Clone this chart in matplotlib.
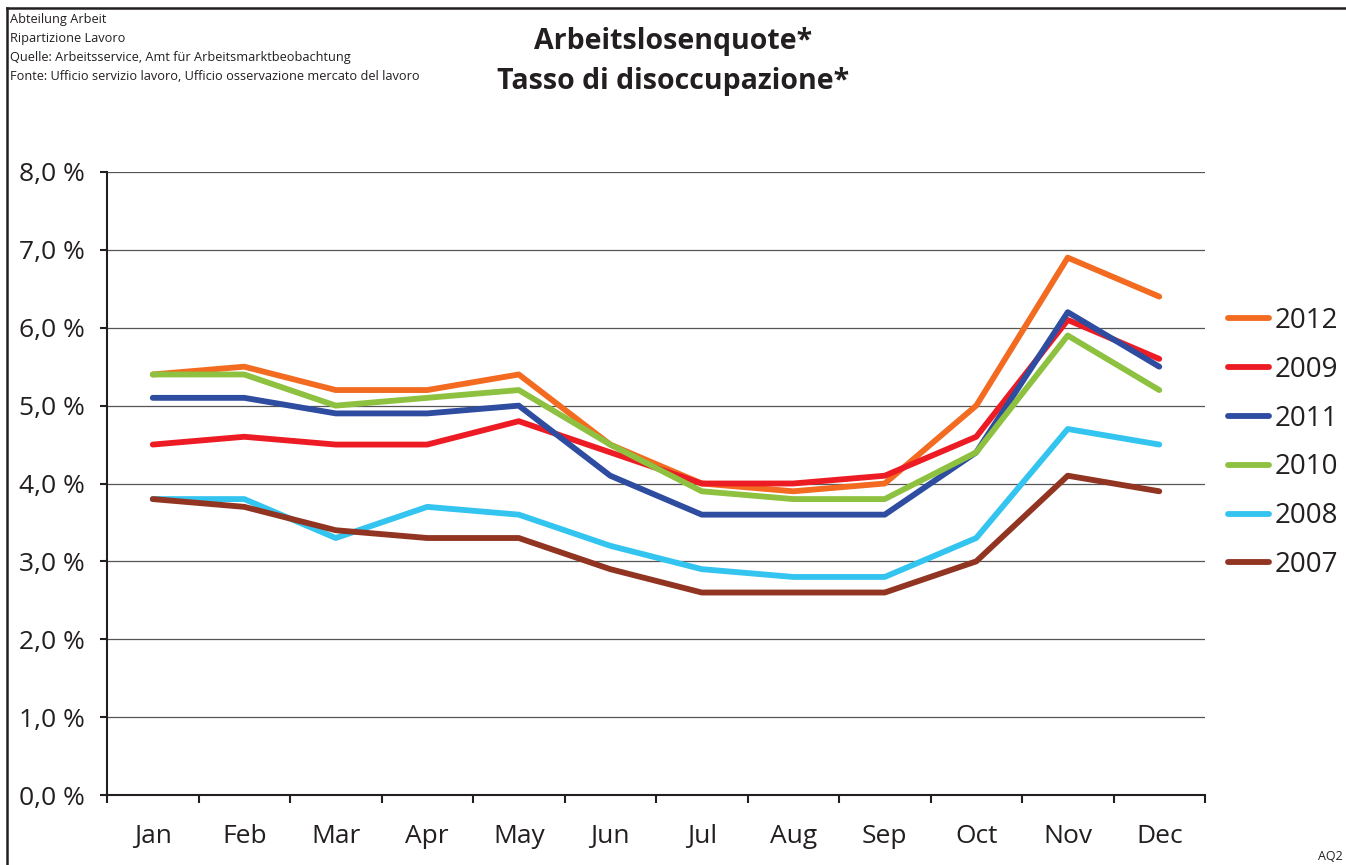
import matplotlib
matplotlib.use('Agg')
import matplotlib.pyplot as plt
from matplotlib.lines import Line2D

plt.rcParams['font.family'] = ['Open Sans', 'DejaVu Sans']

months = ['Jan', 'Feb', 'Mar', 'Apr', 'May', 'Jun', 'Jul', 'Aug', 'Sep', 'Oct', 'Nov', 'Dec']
years = ['2012', '2009', '2011', '2010', '2008', '2007']
rate_2012 = [5.4, 5.5, 5.2, 5.2, 5.4, 4.5, 4.0, 3.9, 4.0, 5.0, 6.9, 6.4]
rate_2009 = [4.5, 4.6, 4.5, 4.5, 4.8, 4.4, 4.0, 4.0, 4.1, 4.6, 6.1, 5.6]
rate_2011 = [5.1, 5.1, 4.9, 4.9, 5.0, 4.1, 3.6, 3.6, 3.6, 4.4, 6.2, 5.5]
rate_2010 = [5.4, 5.4, 5.0, 5.1, 5.2, 4.5, 3.9, 3.8, 3.8, 4.4, 5.9, 5.2]
rate_2008 = [3.8, 3.8, 3.3, 3.7, 3.6, 3.2, 2.9, 2.8, 2.8, 3.3, 4.7, 4.5]
rate_2007 = [3.8, 3.7, 3.4, 3.3, 3.3, 2.9, 2.6, 2.6, 2.6, 3.0, 4.1, 3.9]
series = [rate_2012, rate_2009, rate_2011, rate_2010, rate_2008, rate_2007]
colors = ['#F26B21', '#ED1C24', '#2E4DA0', '#8DC13F', '#33C4F0', '#913421']

fig = plt.figure(figsize=(13.46, 8.65), dpi=100)
ax = fig.add_axes([107 / 1346, 70 / 865, 1098 / 1346, 623 / 865])

x = list(range(len(months)))
for yr, vals, c in zip(years, series, colors):
    ax.plot(x, vals, color=c, lw=4.2, label=yr, solid_capstyle='round')

ax.set_xlim(-0.5, 11.5)
ax.set_ylim(0, 8)
ax.set_yticks(range(0, 9))
ax.set_yticklabels(['%d,0 %%' % v for v in range(0, 9)], fontsize=19, color='#231F20')
ax.yaxis.grid(True, color='#555555', lw=0.9)
ax.set_axisbelow(True)

ax.set_xticks([i - 0.5 for i in range(13)])
ax.set_xticklabels([])
ax.set_xticks(x, minor=True)
ax.set_xticklabels(months, minor=True, fontsize=19, color='#231F20')
ax.tick_params(axis='x', which='minor', length=0, pad=21)
ax.tick_params(axis='x', which='major', length=6, width=1.5, color='#231F20')
ax.tick_params(axis='y', length=5, width=1.5, pad=11, color='#231F20')

for s in ['top', 'right']:
    ax.spines[s].set_visible(False)
for s in ['left', 'bottom']:
    ax.spines[s].set_linewidth(1.5)
    ax.spines[s].set_color('#231F20')

leg = ax.legend(loc='center left', bbox_to_anchor=(0.998, 0.565), frameon=False,
                fontsize=20, handlelength=1.5, handletextpad=0.2, labelspacing=0.75)
for t in leg.get_texts():
    t.set_color('#231F20')

fig.text(0.5, 1 - 42 / 865, 'Arbeitslosenquote*', ha='center', va='center',
         fontsize=20.5, fontweight='bold', color='#231F20')
fig.text(0.5, 1 - 82 / 865, 'Tasso di disoccupazione*', ha='center', va='center',
         fontsize=20.5, fontweight='bold', color='#231F20')

header = ['Abteilung Arbeit', 'Ripartizione Lavoro',
          'Quelle: Arbeitsservice, Amt für Arbeitsmarktbeobachtung',
          'Fonte: Ufficio servizio lavoro, Ufficio osservazione mercato del lavoro']
for i, line in enumerate(header):
    fig.text(10 / 1346, 1 - (20 + 18.7 * i) / 865, line, ha='left', va='center',
             fontsize=9.2, color='#231F20')

fig.text(1 - 3 / 1346, 1 - 857 / 865, 'AQ2', ha='right', va='center', fontsize=9, color='#231F20')

fig.add_artist(Line2D([7 / 1346, 1], [1 - 8 / 865, 1 - 8 / 865], color='#231F20', lw=1.8,
                      transform=fig.transFigure))
fig.add_artist(Line2D([7 / 1346, 7 / 1346], [0, 1 - 8 / 865], color='#231F20', lw=1.8,
                      transform=fig.transFigure))

fig.savefig('out.png', dpi=100)
